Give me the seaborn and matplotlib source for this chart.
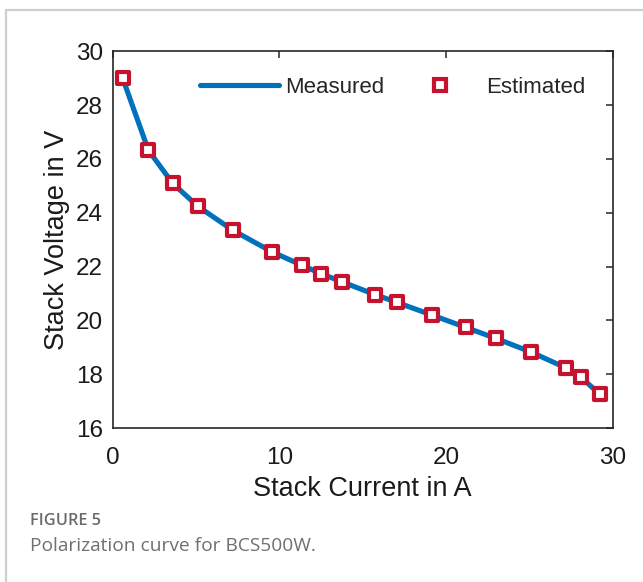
import numpy as np
import pandas as pd
import matplotlib
matplotlib.use("Agg")
import matplotlib.pyplot as plt
import seaborn as sns
from matplotlib.lines import Line2D

# Polarization data for the BCS500W stack
current_a = [0.6, 2.14, 3.6, 5.1, 7.2, 9.54, 11.34, 12.48, 13.76, 15.73,
             17.04, 19.14, 21.18, 22.99, 25.07, 27.17, 28.07, 29.23]
measured_v = [28.99, 26.32, 25.09, 24.24, 23.35, 22.55, 22.05, 21.74, 21.43, 20.96,
              20.67, 20.20, 19.74, 19.33, 18.83, 18.24, 17.90, 17.25]
estimated_v = [28.99, 26.32, 25.09, 24.24, 23.35, 22.55, 22.05, 21.74, 21.43, 20.96,
               20.67, 20.20, 19.74, 19.33, 18.83, 18.24, 17.90, 17.25]
x_ticks = [0, 10, 20, 30]
y_ticks = [16, 18, 20, 22, 24, 26, 28, 30]

df = pd.DataFrame({"current": current_a, "measured": measured_v, "estimated": estimated_v})

sns.set_style("white")
plt.rcParams["font.family"] = ["Liberation Sans", "DejaVu Sans"]

BLUE = "#0072BD"
RED = "#C4122F"

fig = plt.figure(figsize=(6.43, 5.82), dpi=100)
ax = fig.add_axes([0.1753, 0.2646, 0.9529 - 0.1753, 0.912 - 0.2646])

sns.lineplot(data=df, x="current", y="measured", ax=ax, color=BLUE, lw=3.7,
             legend=False, zorder=2)
sns.scatterplot(data=df, x="current", y="estimated", ax=ax, marker="s", s=80,
                facecolor="white", edgecolor=RED, linewidth=3.0, legend=False, zorder=3)

ax.set_xlim(0, 30)
ax.set_ylim(16, 30)
ax.set_xticks(x_ticks)
ax.set_yticks(y_ticks)
ax.tick_params(direction="in", length=5, width=1.1, color="#262626",
               labelsize=17.5, labelcolor="#1a1a1a", top=True, right=True,
               labeltop=False, labelright=False)
ax.tick_params(axis="x", pad=14)
ax.tick_params(axis="y", pad=7)
for s in ax.spines.values():
    s.set_color("#262626")
    s.set_linewidth(1.2)
ax.set_xlabel("Stack Current in A", fontsize=19.5, color="#1a1a1a", labelpad=4.5)
ax.set_ylabel("Stack Voltage in V", fontsize=19.5, color="#1a1a1a", labelpad=4)

handles = [
    Line2D([], [], color=BLUE, lw=3.7),
    Line2D([], [], color=RED, lw=0, marker="s", markersize=8.8,
           markerfacecolor="white", markeredgewidth=3.0),
]
fig.legend(handles, ["Measured", "Estimated"], loc="center left",
           bbox_to_anchor=(200 / 643, 1 - 87.5 / 582), bbox_transform=fig.transFigure,
           ncol=2, frameon=False, fontsize=16, handlelength=3.55,
           handletextpad=0.3, columnspacing=0.72, borderpad=0, borderaxespad=0)

# page frame lines
fig.add_artist(Line2D([6 / 643, 1], [1 - 9.5 / 582, 1 - 9.5 / 582],
                      transform=fig.transFigure, color="#cfcfcf", lw=1.6))
fig.add_artist(Line2D([6 / 643, 6 / 643], [0, 1 - 9.5 / 582],
                      transform=fig.transFigure, color="#cfcfcf", lw=1.6))

fig.text(30 / 643, 1 - 521 / 582, "FIGURE 5", family=["Open Sans", "DejaVu Sans"],
         fontweight="semibold", fontsize=11.8, color="#6b6b6b", va="center", ha="left")
fig.text(30 / 643, 1 - 546 / 582, "Polarization curve for BCS500W.",
         family=["Open Sans", "DejaVu Sans"], fontsize=13.8, color="#707070",
         va="center", ha="left")

fig.savefig("out.png", dpi=100, facecolor="white")
